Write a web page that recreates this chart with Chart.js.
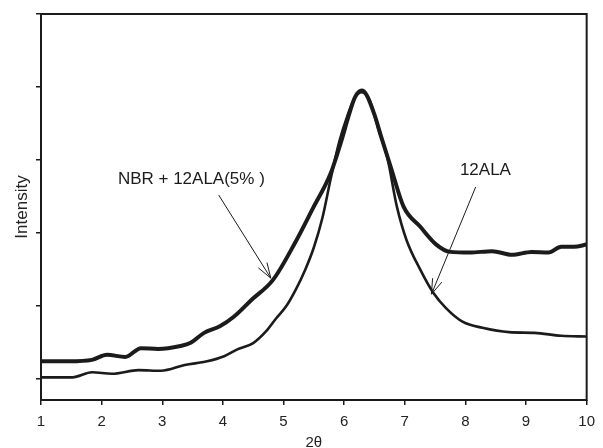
<!DOCTYPE html>
<html>
<head>
<meta charset="utf-8">
<script src="https://cdn.jsdelivr.net/npm/chart.js@4.4.1/dist/chart.umd.min.js"></script>
<style>
  html, body { margin: 0; padding: 0; background: #fff; }
  #wrap { width: 603px; height: 448px; position: relative; }
</style>
</head>
<body>
<div id="wrap"><canvas id="xrd"></canvas></div>
<script>
// XRD patterns, 2theta vs intensity (arbitrary units)

const compositeTheta = [1.00, 1.47, 1.84, 2.09, 2.39, 2.65, 2.93, 3.30, 3.46, 3.69, 3.95, 4.18, 4.47, 4.83, 5.20, 5.48, 5.78, 5.95, 6.08, 6.18, 6.29, 6.37, 6.50, 6.61, 6.77, 6.98, 7.26, 7.52, 7.75, 8.07, 8.44, 8.77, 9.09, 9.37, 9.58, 9.79, 10.00];
const compositeIntensity = [0.24, 0.24, 0.26, 0.33, 0.30, 0.42, 0.41, 0.45, 0.49, 0.63, 0.72, 0.85, 1.08, 1.36, 1.88, 2.33, 2.82, 3.25, 3.62, 3.86, 3.95, 3.89, 3.62, 3.32, 2.90, 2.36, 2.08, 1.84, 1.74, 1.73, 1.75, 1.70, 1.74, 1.73, 1.81, 1.81, 1.84];

const alaTheta = [1.00, 1.52, 1.84, 2.17, 2.61, 2.98, 3.37, 3.74, 4.02, 4.23, 4.50, 4.71, 4.88, 5.04, 5.20, 5.36, 5.50, 5.64, 5.78, 5.92, 6.06, 6.18, 6.29, 6.42, 6.58, 6.71, 6.87, 7.03, 7.26, 7.47, 7.68, 7.96, 8.28, 8.72, 9.14, 9.58, 10.00];
const alaIntensity = [0.02, 0.02, 0.09, 0.07, 0.12, 0.11, 0.19, 0.24, 0.31, 0.40, 0.49, 0.65, 0.83, 0.99, 1.22, 1.50, 1.80, 2.20, 2.75, 3.25, 3.62, 3.86, 3.93, 3.82, 3.38, 3.04, 2.36, 1.90, 1.49, 1.18, 0.97, 0.78, 0.70, 0.64, 0.63, 0.59, 0.58];

const xTicks = [1, 2, 3, 4, 5, 6, 7, 8, 9, 10];
const yTicks = [0, 1, 2, 3, 4, 5];

// label text, label anchor, arrow tail, arrow tip (data units)
const callouts = [
    { text: 'NBR + 12ALA(5% )', at: [3.48, 2.74], from: [3.93, 2.52], to: [4.79, 1.38] },
    { text: '12ALA', at: [8.33, 2.86], from: [8.17, 2.63], to: [7.44, 1.16] },
];

const ink = '#1b1b1b';
const FONT = "'Liberation Sans', Arial, Helvetica, sans-serif";

function pts(xs, ys) {
    return xs.map((x, i) => ({ x, y: ys[i] }));
}

const framePlugin = {
    id: 'frame',
    afterDraw(chart) {
        const { ctx, chartArea: a } = chart;
        ctx.save();
        ctx.strokeStyle = ink;
        ctx.lineWidth = 2;
        ctx.strokeRect(a.left, a.top, a.right - a.left, a.bottom - a.top);
        ctx.restore();
    },
};

const calloutPlugin = {
    id: 'callouts',
    afterDatasetsDraw(chart) {
        const { ctx, scales: { x, y } } = chart;
        ctx.save();
        ctx.fillStyle = ink;
        ctx.strokeStyle = ink;
        ctx.font = '17px ' + FONT;
        ctx.textAlign = 'center';
        ctx.textBaseline = 'middle';
        for (const c of callouts) {
            ctx.fillText(c.text, x.getPixelForValue(c.at[0]), y.getPixelForValue(c.at[1]));
            const x0 = x.getPixelForValue(c.from[0]), y0 = y.getPixelForValue(c.from[1]);
            const x1 = x.getPixelForValue(c.to[0]), y1 = y.getPixelForValue(c.to[1]);
            ctx.lineWidth = 1;
            ctx.beginPath();
            ctx.moveTo(x0, y0);
            ctx.lineTo(x1, y1);
            const ang = Math.atan2(y1 - y0, x1 - x0);
            const head = 16, spread = 0.32;
            ctx.moveTo(x1 - head * Math.cos(ang - spread), y1 - head * Math.sin(ang - spread));
            ctx.lineTo(x1, y1);
            ctx.lineTo(x1 - head * Math.cos(ang + spread), y1 - head * Math.sin(ang + spread));
            ctx.stroke();
        }
        ctx.restore();
    },
};

new Chart(document.getElementById('xrd'), {
    type: 'line',
    data: {
        datasets: [
            {
                label: 'NBR + 12ALA(5%)',
                data: pts(compositeTheta, compositeIntensity),
                borderColor: ink,
                borderWidth: 4,
                pointRadius: 0,
                cubicInterpolationMode: 'monotone',
                fill: false,
            },
            {
                label: '12ALA',
                data: pts(alaTheta, alaIntensity),
                borderColor: ink,
                borderWidth: 2.6,
                pointRadius: 0,
                cubicInterpolationMode: 'monotone',
                fill: false,
            },
        ],
    },
    options: {
        responsive: true,
        maintainAspectRatio: false,
        animation: false,
        layout: { padding: { top: 14, right: 7, left: 0, bottom: 0 } },
        plugins: {
            legend: { display: false },
            tooltip: { enabled: false },
        },
        scales: {
            x: {
                type: 'linear',
                min: 1,
                max: 10,
                afterBuildTicks: (s) => { s.ticks = xTicks.map(v => ({ value: v })); },
                afterFit: (s) => { s.height = 48; },
                ticks: {
                    color: '#222',
                    font: { family: FONT, size: 15 },
                    padding: 8,
                    maxRotation: 0,
                },
                grid: { drawOnChartArea: false, drawTicks: true, tickLength: 5, color: ink, lineWidth: 1.5 },
                border: { display: false },
                title: {
                    display: true,
                    text: '2θ',
                    color: '#222',
                    font: { family: FONT, size: 15 },
                    padding: { top: 0, bottom: -4 },
                },
            },
            y: {
                type: 'linear',
                min: -0.29,
                max: 5,
                afterBuildTicks: (s) => { s.ticks = yTicks.map(v => ({ value: v })); },
                afterFit: (s) => { s.width = 41; },
                ticks: { callback: () => '', padding: 0 },
                grid: { drawOnChartArea: false, drawTicks: true, tickLength: 5, color: ink, lineWidth: 1.5 },
                border: { display: false },
                title: {
                    display: true,
                    text: 'Intensity',
                    color: '#222',
                    font: { family: FONT, size: 17 },
                    padding: { top: 12, bottom: 0 },
                },
            },
        },
    },
    plugins: [framePlugin, calloutPlugin],
});
</script>
</body>
</html>
